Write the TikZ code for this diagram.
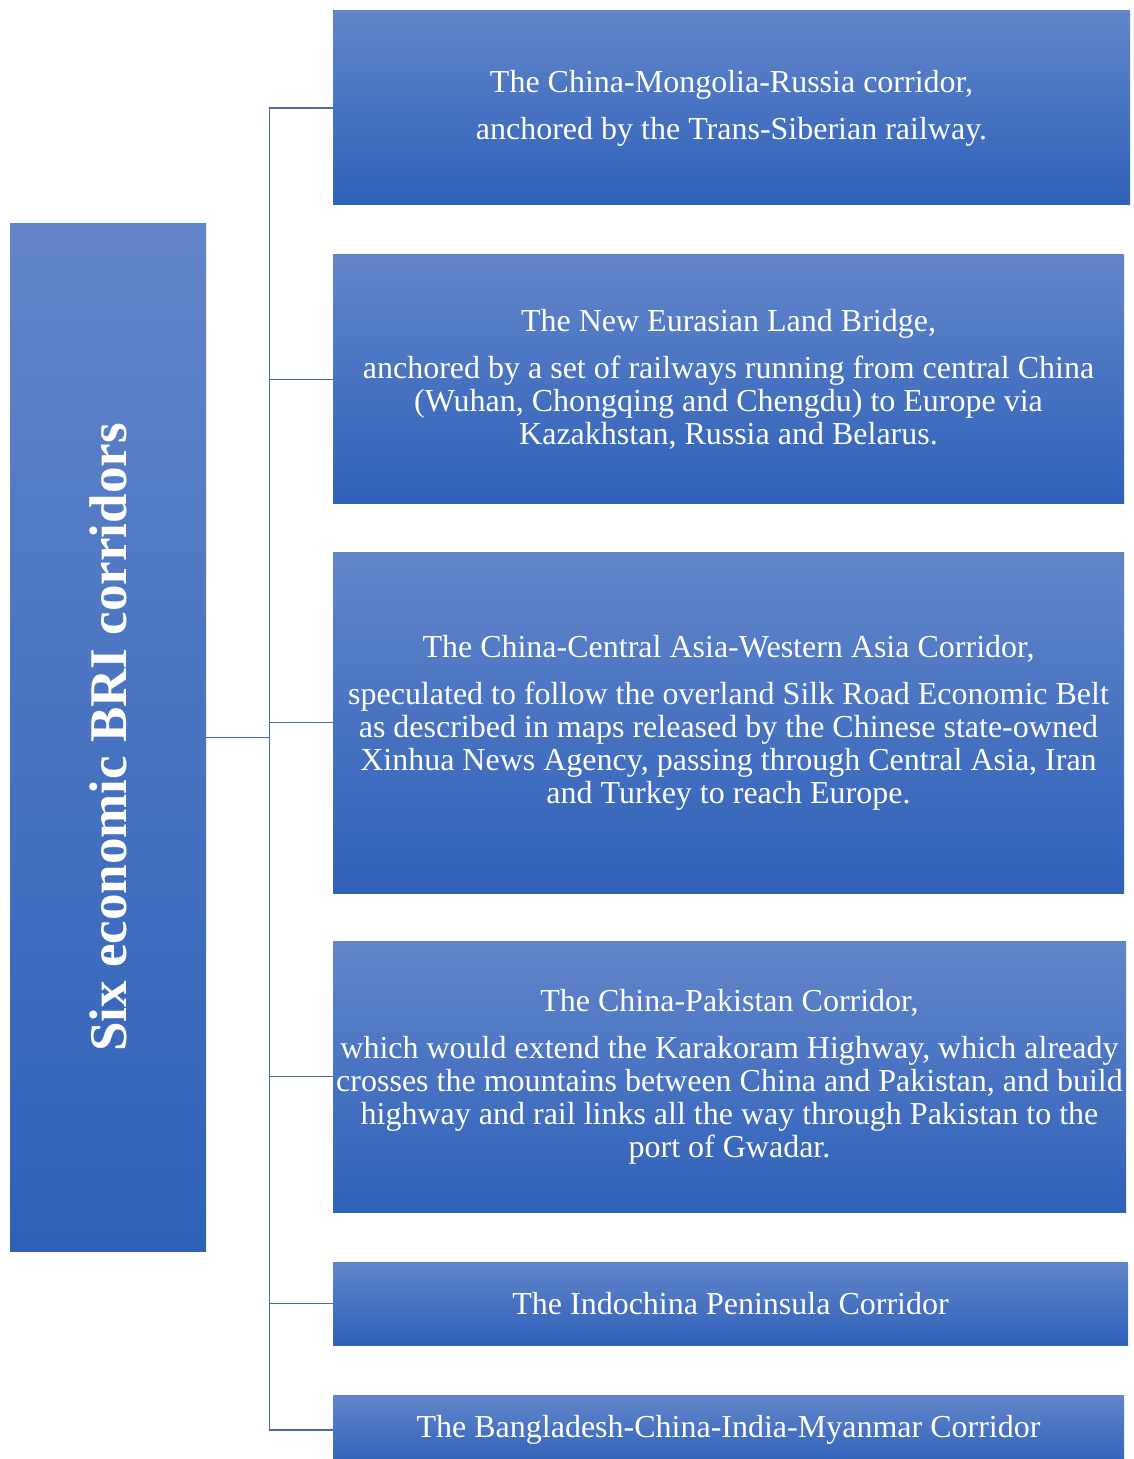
\documentclass[tikz,border=0pt]{standalone}
\usepackage{fontspec}
\setmainfont{Liberation Serif}
\usepackage{xcolor}
\usepackage{tikz}
\definecolor{boxtop}{HTML}{6285CA}
\definecolor{boxbottom}{HTML}{2F61B9}
\definecolor{linkblue}{HTML}{4A6BA8}

\tikzset{
  corridor/.style={rectangle, inner sep=0pt, top color=boxtop, bottom color=boxbottom,
    text=white, align=center, font=\fontsize{16}{16.5}\selectfont},
  link/.style={draw=linkblue, line width=0.75pt}
}

\begin{document}
\begin{tikzpicture}[x=0.5pt, y=-0.5pt]
    \useasboundingbox (0,0) rectangle (1133,1459);
    % Caja principal vertical
    \node[corridor, minimum width=98pt, minimum height=513.5pt] (main) at (108,737.5) {};
    \node[text=white, rotate=90, font=\fontsize{26.5}{28}\selectfont\bfseries] (maintext) at (main.center)
        {Six economic BRI corridors};
    % Corredores
    \node[corridor, minimum width=398.5pt, minimum height=97pt] (c1) at (731.5,108)
        {The China-Mongolia-Russia corridor,\\[7pt]
         anchored by the Trans-Siberian railway.};
    \node[corridor, minimum width=395.5pt, minimum height=124.5pt] (c2) at (728.5,379.5)
        {The New Eurasian Land Bridge,\\[7pt]
         anchored by a set of railways running from central China\\
         (Wuhan, Chongqing and Chengdu) to Europe via\\
         Kazakhstan, Russia and Belarus.};
    \node[corridor, minimum width=395.5pt, minimum height=170.5pt] (c3) at (728.5,722.5)
        {The China-Central Asia-Western Asia Corridor,\\[7pt]
         speculated to follow the overland Silk Road Economic Belt\\
         as described in maps released by the Chinese state-owned\\
         Xinhua News Agency, passing through Central Asia, Iran\\
         and Turkey to reach Europe.};
    \node[corridor, minimum width=396.5pt, minimum height=135.5pt] (c4) at (729.5,1076.5)
        {The China-Pakistan Corridor,\\[7pt]
         which would extend the Karakoram Highway, which already\\
         crosses the mountains between China and Pakistan, and build\\
         highway and rail links all the way through Pakistan to the\\
         port of Gwadar.};
    \node[corridor, minimum width=397.5pt, minimum height=41.5pt] (c5) at (730.5,1303.5)
        {The Indochina Peninsula Corridor};
    \node[corridor, minimum width=395.5pt, minimum height=35pt] (c6) at (728.5,1430)
        {The Bangladesh-China-India-Myanmar Corridor};
    % Lineas de conexion
    \draw[link] (main.east) -- ++(63,0) coordinate (hub);
    \draw[link] (hub |- c1.west) -- (hub |- c6.west);
    \foreach \c in {c1,c2,c3,c4,c5,c6}
        \draw[link] (hub |- \c.west) -- (\c.west);
\end{tikzpicture}
\end{document}
